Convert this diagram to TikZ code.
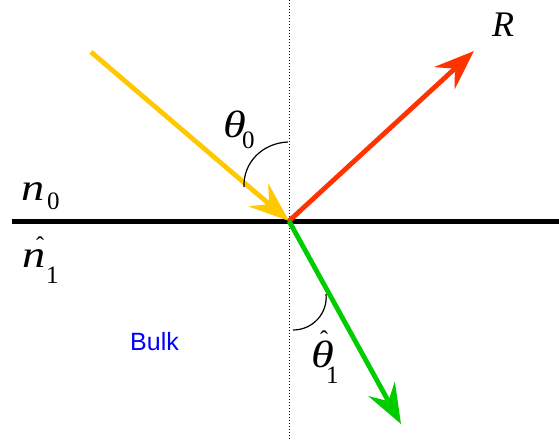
\documentclass[tikz,border=0pt]{standalone}
\usepackage{fontspec}
\setmainfont{Liberation Serif}
\newfontfamily\bulkfont{Liberation Sans}
\usetikzlibrary{arrows.meta}
\definecolor{rayyellow}{HTML}{FFC800}
\definecolor{rayred}{HTML}{FF3300}
\definecolor{raygreen}{HTML}{00CC00}
\newcommand\widesym[1]{\scalebox{1.22}[1]{#1}}
\begin{document}
\begin{tikzpicture}[x=1pt,y=-1pt,
  ray/.style={line width=4.8pt,-{Stealth[length=40pt,width=30pt,inset=14pt]}},
  sym/.style={inner sep=0pt,anchor=base west,font=\itshape\fontsize{38}{40}\selectfont},
  sub/.style={inner sep=0pt,anchor=base west,font=\upshape\fontsize{25}{27}\selectfont},
  hatmark/.style={inner sep=0pt,anchor=base west,font=\upshape\fontsize{24}{26}\selectfont},
  anglearc/.style={line width=1.2pt}]
\useasboundingbox (0,0) rectangle (559,441);
\coordinate (O) at (289,221);
\coordinate (topd) at (289,0);
\coordinate (botd) at (289,441);
\coordinate (surfL) at (12,221);
\coordinate (surfR) at (559,221);
\coordinate (inc) at (91,52);
\coordinate (refl) at (474,51);
\coordinate (trans) at (401,424);
% normal
\draw[dotted,line width=1pt] (topd) -- (botd);
% surface
\draw[line width=5pt] (surfL) -- (surfR);
% rays
\draw[ray,rayyellow] (inc) -- (O);
\draw[ray,rayred] (O) -- (refl);
\draw[ray,raygreen] (O) -- (trans);
% angle arcs
\coordinate (a0s) at (288,142);
\coordinate (a0e) at (244,187);
\draw[anglearc] (a0s) .. controls (262,143) and (243,163) .. (a0e);
\coordinate (a1s) at (293,330);
\coordinate (a1e) at (326,294);
\draw[anglearc] (a1s) .. controls (313,330) and (328,313) .. (a1e);
% labels
\node[sym] (th0) at (223,137) {\widesym{θ}};
\node[sub] (th0s) at (242,148) {0};
\node[sym,font=\itshape\fontsize{36}{38}\selectfont] (R) at (492,37) {R};
\node[sym] (n0) at (21,200) {\widesym{n}};
\node[sub] (n0s) at (47,209) {0};
\node[sym] (n1) at (22,267) {\widesym{n}};
\node[hatmark] (n1h) at (36,253) {ˆ};
\node[sub] (n1s) at (46,283) {1};
\node[sym] (th1) at (311,367) {\widesym{θ}};
\node[hatmark] (th1h) at (320,347) {ˆ};
\node[sub] (th1s) at (326,383) {1};
\node[inner sep=0pt,anchor=base west,text=blue,font=\bulkfont\fontsize{25}{27}\selectfont] (bulk) at (130,350) {Bulk};
\end{tikzpicture}
\end{document}
